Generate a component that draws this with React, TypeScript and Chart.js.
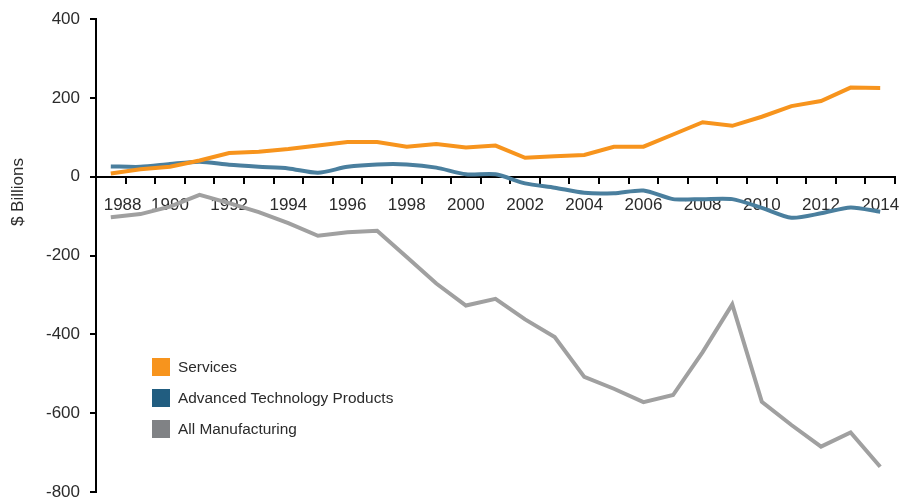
import React, { useEffect, useRef } from "react";
import { Chart, registerables } from "chart.js";

Chart.register(...registerables);

const years = [
  "1988", "1989", "1990", "1991", "1992", "1993", "1994", "1995", "1996",
  "1997", "1998", "1999", "2000", "2001", "2002", "2003", "2004", "2005",
  "2006", "2007", "2008", "2009", "2010", "2011", "2012", "2013", "2014",
];

const services = [
  8, 19, 25, 41, 60, 63, 70, 79, 88, 88, 76, 83, 74, 79, 48, 52, 55, 76, 76,
  107, 138, 129, 152, 179, 192, 226, 225,
];

const advancedTech = [
  26, 25, 32, 38, 30, 25, 21, 10, 25, 31, 31, 23, 6, 6, -17, -28, -41, -42,
  -35, -57, -57, -57, -79, -104, -93, -78, -89,
];

const allManufacturing = [
  -103, -95, -76, -46, -67, -90, -118, -150, -141, -137, -204, -271, -327,
  -310, -362, -407, -508, -538, -572, -554, -445, -324, -571, -630, -685,
  -649, -736,
];

const yTickValues = [400, 200, 0, -200, -400, -600, -800];

const legendItems = [
  { label: "Services", color: "#F7941D" },
  { label: "Advanced Technology Products", color: "#215D80" },
  { label: "All Manufacturing", color: "#808285" },
];

const FONT = "'Liberation Sans', Arial, sans-serif";
const TEXT = "#2b2b2b";

export default function App() {
  const canvasRef = useRef<HTMLCanvasElement | null>(null);

  useEffect(() => {
    const canvas = canvasRef.current;
    if (!canvas) return;

    const yTitlePlugin = {
      id: "yTitle",
      afterDraw(chart: any) {
        const ctx = chart.ctx;
        const y = chart.scales.y.getPixelForValue(-39);
        ctx.save();
        ctx.translate(18, y);
        ctx.rotate(-Math.PI / 2);
        ctx.fillStyle = TEXT;
        ctx.font = `17px ${FONT}`;
        ctx.textAlign = "center";
        ctx.textBaseline = "middle";
        ctx.fillText("$ Billions", 0, 0);
        ctx.restore();
      },
    };

    const chart = new Chart(canvas, {
      type: "line",
      data: {
        labels: years,
        datasets: [
          {
            label: "Services",
            data: services,
            borderColor: "#F7941D",
            backgroundColor: "#F7941D",
            borderWidth: 4,
            pointRadius: 0,
            tension: 0,
          },
          {
            label: "Advanced Technology Products",
            data: advancedTech,
            borderColor: "#4A7F9E",
            backgroundColor: "#215D80",
            borderWidth: 4,
            pointRadius: 0,
            tension: 0.25,
          },
          {
            label: "All Manufacturing",
            data: allManufacturing,
            borderColor: "#A0A0A0",
            backgroundColor: "#808285",
            borderWidth: 4,
            pointRadius: 0,
            tension: 0,
          },
        ],
      },
      options: {
        animation: false,
        responsive: true,
        maintainAspectRatio: false,
        layout: { padding: { left: 0, top: 19, right: 6, bottom: 6 } },
        plugins: {
          legend: { display: false },
          tooltip: { enabled: false },
        },
        scales: {
          x: {
            type: "category",
            position: { y: 0 } as any,
            offset: true,
            z: 1,
            grid: {
              offset: true,
              drawOnChartArea: false,
              drawTicks: true,
              tickLength: 6,
              color: "#000",
              lineWidth: 2,
            },
            border: { display: true, color: "#000", width: 2 },
            ticks: {
              autoSkip: false,
              maxRotation: 0,
              minRotation: 0,
              padding: 12,
              color: TEXT,
              font: { family: FONT, size: 17 },
              callback: (_v: any, i: number) =>
                i % 2 === 0 ? (i === 0 ? "     " + years[i] : years[i]) : "",
            },
            afterFit: (s: any) => {
              s.paddingLeft = 0;
              s.paddingRight = 0;
            },
          },
          y: {
            min: -800,
            max: 400,
            afterBuildTicks: (s: any) => {
              s.ticks = yTickValues.map((v) => ({ value: v }));
            },
            grid: {
              drawOnChartArea: false,
              drawTicks: true,
              tickLength: 6,
              color: "#000",
              lineWidth: 2,
            },
            border: { display: true, color: "#000", width: 2 },
            ticks: {
              padding: 10,
              color: TEXT,
              font: { family: FONT, size: 17 },
              callback: (v: any) => String(v),
            },
            afterFit: (s: any) => {
              s.width = 96;
              s.paddingTop = 0;
              s.paddingBottom = 0;
            },
          },
        },
      },
      plugins: [yTitlePlugin],
    } as any);

    return () => chart.destroy();
  }, []);

  return (
    <div
      style={{
        position: "fixed",
        left: 0,
        top: 0,
        width: 901,
        height: 498,
        background: "#fff",
      }}
    >
      <canvas ref={canvasRef} />
      {legendItems.map((item, i) => (
        <div
          key={item.label}
          style={{
            position: "absolute",
            left: 152,
            top: 358 + i * 31,
            height: 18,
            display: "flex",
            alignItems: "center",
            fontFamily: FONT,
            fontSize: 15.4,
            color: TEXT,
            whiteSpace: "nowrap",
          }}
        >
          <span
            style={{
              display: "inline-block",
              width: 18,
              height: 18,
              background: item.color,
              marginRight: 8,
            }}
          />
          {item.label}
        </div>
      ))}
    </div>
  );
}
